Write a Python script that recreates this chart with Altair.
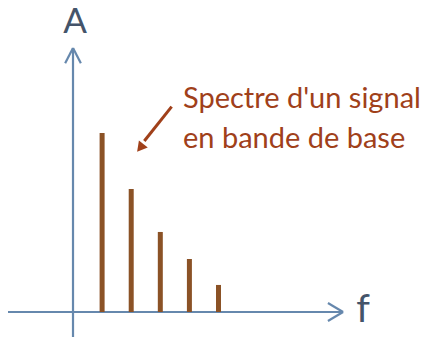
import altair as alt
import pandas as pd

# data
freqs = [1, 2, 3, 4, 5]
amps = [1.0, 0.687, 0.447, 0.296, 0.151]
label_lines = ["Spectre d'un signal", "en bande de base"]
y_label = "A"
x_label = "f"

W, H = 428, 329
X0, X1 = -2.234, 12.474
Y0, Y1 = -0.1397, 1.698

xs = alt.Scale(domain=[X0, X1], nice=False, zero=False)
ys = alt.Scale(domain=[Y0, Y1], nice=False, zero=False)
noax = None

AXC = "#6688AD"
TXT = "#44546A"
BROWN = "#8B5226"
RED = "#A0401A"

bars_df = pd.DataFrame({"f": freqs, "A": amps, "z": [0] * len(freqs)})
bars = alt.Chart(bars_df).mark_rule(color=BROWN, strokeWidth=5).encode(
    x=alt.X("f:Q", scale=xs, axis=noax),
    y=alt.Y("z:Q", scale=ys, axis=noax),
    y2="A:Q",
)

# axes with open arrow heads (two-point polylines)
seg_df = pd.DataFrame({
    "x": [X0, 9.28, 8.76, 9.28, 9.28, 8.76, 0, 0, -0.27, 0, 0, 0.27],
    "y": [0, 0, 0.05, 0, 0, -0.05, -0.173, 1.475, 1.39, 1.475, 1.475, 1.39],
    "g": ["h", "h", "a1", "a1", "a2", "a2", "v", "v", "b1", "b1", "b2", "b2"],
    "o": [0, 1, 0, 1, 0, 1, 0, 1, 0, 1, 0, 1],
})
axes = alt.Chart(seg_df).mark_line(color=AXC, strokeWidth=2.2).encode(
    x=alt.X("x:Q", scale=xs, axis=noax),
    y=alt.Y("y:Q", scale=ys, axis=noax),
    detail="g:N",
    order="o:Q",
)

lbl_df = pd.DataFrame({"x": [0.07, 9.97], "y": [1.559, -0.054], "t": [y_label, x_label], "s": [35, 39]})
labels = alt.Chart(lbl_df).mark_text(font="Lato", color=TXT, baseline="alphabetic", align="center").encode(
    x=alt.X("x:Q", scale=xs, axis=noax),
    y=alt.Y("y:Q", scale=ys, axis=noax),
    text="t:N",
    size=alt.Size("s:Q", scale=None, legend=None),
)

ann_df = pd.DataFrame({"x": [3.78, 3.78], "y": [1.14, 0.916], "t": label_lines})
ann = alt.Chart(ann_df).mark_text(font="Lato", fontSize=29, color=RED, baseline="alphabetic", align="left").encode(
    x=alt.X("x:Q", scale=xs, axis=noax),
    y=alt.Y("y:Q", scale=ys, axis=noax),
    text="t:N",
)

arr_df = pd.DataFrame({"x": [3.39, 2.45], "y": [1.147, 0.955]})
shaft = alt.Chart(arr_df).mark_line(color=RED, strokeWidth=3).encode(
    x=alt.X("x:Q", scale=xs, axis=noax),
    y=alt.Y("y:Q", scale=ys, axis=noax),
)
head_df = pd.DataFrame({"x": [2.31], "y": [0.917]})
head = alt.Chart(head_df).mark_point(shape="triangle-up", filled=True, color=RED, opacity=1, size=130, angle=219).encode(
    x=alt.X("x:Q", scale=xs, axis=noax),
    y=alt.Y("y:Q", scale=ys, axis=noax),
)

chart = alt.layer(axes, bars, labels, shaft, head, ann).properties(
    width=W, height=H, padding=0, autosize=alt.AutoSizeParams(type="none")
).configure_view(stroke=None)

chart.save("out.html", embed_options={"renderer": "svg", "actions": False})
